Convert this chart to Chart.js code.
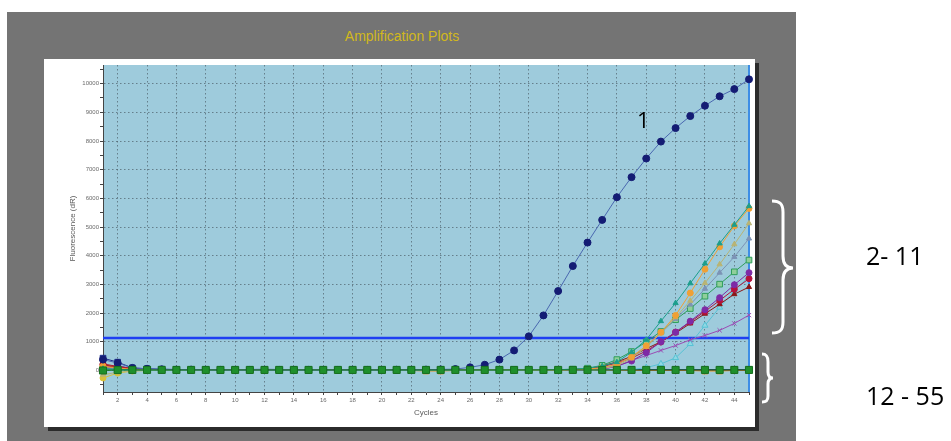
<!DOCTYPE html>
<html>
<head>
<meta charset="utf-8">
<title>Amplification Plots</title>
<script src="https://cdn.jsdelivr.net/npm/chart.js@4/dist/chart.umd.min.js"></script>
<style>
  html, body { margin: 0; padding: 0; background: #ffffff; }
  body { position: relative; width: 951px; height: 441px; overflow: hidden; }
  #frame { position: absolute; left: 7px; top: 12px; width: 789px; height: 429px; background: #747474; }
  #title { position: absolute; left: 7px; top: 28px; width: 790px; text-align: center;
           font: 14px 'Liberation Sans', Arial, sans-serif; color: #d2b81c; }
  #panel { position: absolute; left: 44px; top: 59px; width: 711px; height: 368px; background: #ffffff;
           box-shadow: 4px 4px 0 #2b2b2b; }
  #panel canvas { display: block; }
  .note { position: absolute; font-family: 'Open Sans', sans-serif; color: #000; line-height: 1; white-space: nowrap; }
  #n1 { left: 637px; top: 108px; font-size: 22px; }
  #n2 { left: 866px; top: 243px; font-size: 25px; }
  #n3 { left: 866px; top: 383px; font-size: 25px; }
  #braces { position: absolute; left: 0; top: 0; }
</style>
</head>
<body>
<div id="frame"></div>
<div id="title">Amplification Plots</div>
<div id="panel"><canvas id="amp"></canvas></div>
<svg id="braces" width="951" height="441">
  <path d="M772,201 C780,201 783,204 783,212 L783,256 C783,264 786,268 793,268 C786,268 783,272 783,280 L783,322 C783,330 780,333 772,333"
        fill="none" stroke="#ffffff" stroke-width="3"/>
  <path d="M762,354 C767,354 768,357 768,362 L768,372 C768,376 770,378 773,378 C770,378 768,380 768,384 L768,396 C768,400 767,402 762,402"
        fill="none" stroke="#ffffff" stroke-width="3"/>
</svg>
<div class="note" id="n1">1</div>
<div class="note" id="n2">2- 11</div>
<div class="note" id="n3">12 - 55</div>

<script>
// PCR cycles 1..45
const cycles = [1,2,3,4,5,6,7,8,9,10,11,12,13,14,15,16,17,18,19,20,21,22,23,24,25,26,27,28,29,30,31,32,33,34,35,36,37,38,39,40,41,42,43,44,45];

// Fluorescence axis ticks (minor every 500, labelled every 1000 from 0)
const yTicks = [-500,0,500,1000,1500,2000,2500,3000,3500,4000,4500,5000,5500,6000,6500,7000,7500,8000,8500,9000,9500,10000,10500];

// Threshold fluorescence (dR)
const thresholdLevel = 1130;

// Sample 1 – early amplifier
const sample1 = [380,260,90,60,40,30,30,25,20,20, 20,25,20,20,20,20,20,25,20,20, 25,25,30,35,50,110,200,380,700,1190, 1920,2770,3640,4460,5250,6040,6740,7390,7980,8450, 8870,9230,9560,9810,10150];

// Samples 2 – 11 – late amplifiers
const s2Teal   = [60,40,20,10,10,10,10,10,10,10, 10,10,10,10,10,10,10,10,10,10, 10,10,10,10,10,10,10,10,10,15, 20,30,40,80,150,290,640,1070,1720,2350, 3040,3730,4430,5080,5730];
const s3Orange = [150,90,40,20,10,10,10,10,10,10, 10,10,10,10,10,10,10,10,10,10, 10,10,10,10,10,10,10,10,10,10, 15,20,30,50,100,220,470,860,1330,1920, 2700,3530,4310,5040,5650];
const s4Khaki  = [-150,-60,-10,0,10,10,10,10,10,10, 10,10,10,10,10,10,10,10,10,10, 10,10,10,10,10,10,10,10,10,10, 10,15,20,30,60,160,420,820,1300,1850, 2430,3050,3700,4400,5130];
const s5Steel  = [100,60,30,20,10,10,10,10,10,10, 10,10,10,10,10,10,10,10,10,10, 10,10,10,10,10,10,10,10,10,10, 10,15,20,30,70,200,470,850,1300,1800, 2300,2850,3410,3960,4600];
const s6Green  = [40,30,20,20,20,20,20,20,20,20, 20,20,20,20,20,20,20,20,20,20, 20,20,20,20,20,20,20,20,20,20, 25,30,45,80,180,380,660,1000,1360,1770, 2160,2590,3010,3440,3850];
const s7Purple = [90,60,30,20,10,10,10,10,10,10, 10,10,10,10,10,10,10,10,10,10, 10,10,10,10,10,10,10,10,10,10, 10,15,20,30,40,150,330,620,1000,1330, 1720,2120,2540,2990,3410];
const s8Crimson= [200,120,50,30,20,20,20,20,20,20, 20,20,20,20,20,20,20,20,20,20, 20,20,20,20,20,20,20,20,20,20, 20,25,35,60,130,260,430,680,990,1340, 1690,2060,2440,2830,3200];
const s9DarkRed= [180,100,40,20,20,20,20,20,20,20, 20,20,20,20,20,20,20,20,20,20, 20,20,20,20,20,20,20,20,20,20, 20,25,35,60,160,300,490,760,1000,1300, 1640,1980,2310,2660,2910];
const s10Violet= [70,50,20,10,10,10,10,10,10,10, 10,10,10,10,10,10,10,10,10,10, 10,10,10,10,10,10,10,10,10,10, 10,10,20,30,50,150,350,520,700,870, 1070,1220,1400,1640,1930];
const s11Cyan  = [30,20,10,10,10,10,10,10,10,10, 10,10,10,10,10,10,10,10,10,10, 10,10,10,10,10,10,10,10,10,10, 10,10,10,10,20,25,30,100,230,440, 930,1570,2200,2780,3280];

// Samples 12 – 55 – no amplification (baseline)
const bGreen  = [0,15,20,20,20,20,20,20,20,20, 20,20,20,20,20,20,20,20,20,20, 20,20,20,20,20,20,20,20,20,20, 20,20,20,20,20,20,20,20,20,20, 20,20,20,20,20];
const bNavy   = [430,290,90,60,45,35,30,30,30,30, 35,40,35,30,30,30,30,30,30,30, 30,30,30,30,30,30,30,30,30,30, 30,30,30,30,30,30,30,30,30,30, 30,30,30,30,30];
const bRed    = [230,140,70,40,30,20,20,20,20,20, 20,20,20,20,20,20,20,20,20,20, 20,20,20,20,20,20,20,20,20,20, 20,20,20,20,20,20,20,20,20,20, 20,20,20,20,20];
const bOrange = [120,70,30,20,10,10,10,0,0,0, 0,0,0,0,0,0,0,0,0,0, 0,0,-20,-20,0,0,0,0,0,0, 0,0,0,0,0,0,0,0,0,0, 0,-20,-20,0,0];
const bYellow = [-260,-90,-20,0,10,10,10,10,10,10, 10,10,10,10,10,10,10,10,10,10, 10,10,10,10,10,10,10,10,10,10, 10,10,10,10,10,10,10,10,10,10, 10,10,10,10,10];
const bPurple = [90,170,60,30,20,20,20,20,20,20, 20,20,20,20,20,20,20,20,20,20, 20,20,20,20,20,20,20,20,20,20, 20,20,20,20,20,20,20,20,20,20, 20,20,20,20,20];

const pts = arr => cycles.map((c, i) => ({ x: c, y: arr[i] }));

function curve(label, values, color, style, radius, fill) {
  return {
    label, data: pts(values), borderColor: color, backgroundColor: fill || color,
    pointBorderColor: color, pointBackgroundColor: fill || color,
    pointStyle: style, pointRadius: radius, pointBorderWidth: 1,
    borderWidth: 1, tension: 0, clip: 6
  };
}

// Plot backdrop and right boundary line
const plotBackdrop = {
  id: 'plotBackdrop',
  beforeDraw(chart) {
    const { ctx, chartArea: a } = chart;
    ctx.save();
    ctx.fillStyle = '#9ecbdc';
    ctx.fillRect(a.left, a.top, a.right - a.left, a.bottom - a.top);
    ctx.restore();
  },
  beforeDatasetsDraw(chart) {
    const { ctx, chartArea: a } = chart;
    ctx.save();
    ctx.strokeStyle = '#3d8ee6';
    ctx.lineWidth = 2;
    ctx.beginPath();
    ctx.moveTo(a.right, a.top);
    ctx.lineTo(a.right, a.bottom);
    ctx.stroke();
    ctx.restore();
  }
};

Chart.defaults.font.family = "'Liberation Sans', Arial, sans-serif";

const datasets = [
  curve('12-55', bGreen, '#16701f', 'rect', 5, '#1f8f2c'),
  Object.assign(curve('1', sample1, '#4a68b0', 'circle', 3.5, '#141c74'), { pointBorderColor: '#141c74' }),
  curve('2', s2Teal, '#1c9e8c', 'triangle', 3),
  curve('3', s3Orange, '#f0a035', 'circle', 3),
  curve('4', s4Khaki, '#b9b474', 'triangle', 3),
  curve('5', s5Steel, '#7c93b6', 'triangle', 3),
  curve('6', s6Green, '#2f9e5c', 'rect', 4, '#8fcf9a'),
  curve('7', s7Purple, '#7e2aa6', 'circle', 3),
  curve('8', s8Crimson, '#b5123c', 'circle', 3),
  curve('9', s9DarkRed, '#8a1818', 'triangle', 3),
  curve('10', s10Violet, '#9a4cb4', 'crossRot', 3),
  curve('11', s11Cyan, '#56c2d4', 'triangle', 3.5, '#8fd8e4'),
  curve('b-navy', bNavy, '#1e2f8c', 'rect', 4),
  curve('b-red', bRed, '#a82222', 'circle', 3),
  curve('b-orange', bOrange, '#e89a2a', 'rect', 4),
  curve('b-yellow', bYellow, '#d8c23a', 'circle', 3),
  curve('b-purple', bPurple, '#7a3aa0', 'circle', 3),
  {
    label: 'Threshold',
    data: [{ x: cycles[0], y: thresholdLevel }, { x: cycles[cycles.length - 1], y: thresholdLevel }],
    borderColor: '#1f3ff2', borderWidth: 2.5, pointRadius: 0, tension: 0
  }
];

const gridDots = 'rgba(55,65,75,0.55)';

new Chart(document.getElementById('amp'), {
  type: 'line',
  data: { datasets },
  plugins: [plotBackdrop],
  options: {
    responsive: true,
    maintainAspectRatio: false,
    devicePixelRatio: 1,
    animation: false,
    layout: { padding: { top: 6, right: 5, left: 0, bottom: 0 } },
    plugins: { legend: { display: false }, tooltip: { enabled: false } },
    scales: {
      x: {
        type: 'linear', min: 1, max: 45,
        afterFit: s => { s.height = 35; },
        afterBuildTicks: s => { s.ticks = cycles.map(c => ({ value: c })); },
        ticks: {
          autoSkip: false, maxRotation: 0,
          padding: 2, color: '#6a6a6a', font: { size: 6 },
          callback: v => (v % 2 === 0 ? String(v) : '')
        },
        grid: {
          color: ctx => (ctx.tick && ctx.tick.value % 2 === 0 ? gridDots : 'transparent'),
          tickColor: '#444', tickLength: 3, tickBorderDash: []
        },
        border: { color: '#444', width: 1, dash: [1.5, 2.5] },
        title: { display: true, text: 'Cycles', color: '#5a5a5a', font: { size: 8 }, padding: { top: 0, bottom: 9 } }
      },
      y: {
        type: 'linear', min: -750, max: 10650,
        afterFit: s => { s.width = 59; },
        afterBuildTicks: s => { s.ticks = yTicks.map(v => ({ value: v })); },
        ticks: {
          autoSkip: false, padding: 1, color: '#6a6a6a', font: { size: 6 },
          callback: v => (v >= 0 && v % 1000 === 0 ? String(v) : '')
        },
        grid: {
          color: ctx => (ctx.tick && ctx.tick.value % 1000 === 0 ? gridDots : 'transparent'),
          tickColor: '#444', tickLength: 3, tickBorderDash: []
        },
        border: { color: '#444', width: 1, dash: [1.5, 2.5] },
        title: { display: true, text: 'Fluorescence (dR)', color: '#5a5a5a', font: { size: 8 }, padding: { top: 24, bottom: 0 } }
      }
    }
  }
});
</script>
</body>
</html>
